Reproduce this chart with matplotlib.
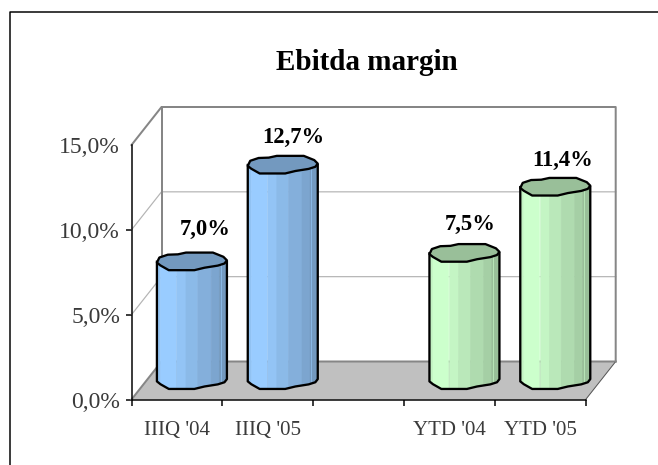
import numpy as np
import matplotlib
matplotlib.use('Agg')
import matplotlib.pyplot as plt
from matplotlib.colors import to_rgb
from matplotlib.lines import Line2D

categories = ["IIIQ '04", "IIIQ '05", "", "YTD '04", "YTD '05"]
bar_slots = [0, 1, 3, 4]
values = [7.0, 12.7, 7.5, 11.4]
value_labels = ['7,0%', '12,7%', '7,5%', '11,4%']
bar_colors = ['#99ccff', '#99ccff', '#ccffcc', '#ccffcc']
y_ticks = [0, 5, 10, 15]
y_tick_labels = ['0,0%', '5,0%', '10,0%', '15,0%']
title = 'Ebitda margin'

W, H = 658, 465
plt.rcParams['font.family'] = ['Liberation Serif', 'DejaVu Serif']

fig = plt.figure(figsize=(W / 100, H / 100), dpi=100, facecolor='white')
ax = fig.add_axes([131.5 / W, 1 - 399.5 / H, (585.7 - 131.5) / W, (399.5 - 145) / H])
ax.set_xlim(0, 5)
ax.set_ylim(0, 15)
ax.patch.set_visible(False)

# size of one pixel in data units
px_x = 5 / (585.7 - 131.5)
px_y = 15 / (399.5 - 145)
dx = 30 * px_x
dy = 38 * px_y

GRID = '#b4b4b4'
EDGE = '#868686'
PX = 0.72

# floor
ax.fill([0, 5, 5 + dx, dx], [0, 0, dy, dy], color='#c0c0c0', lw=0, zorder=1, clip_on=False)
ax.plot([0, dx, 5 + dx], [0, dy, dy], color=EDGE, lw=2 * PX, zorder=2, clip_on=False)
ax.plot([5, 5 + dx], [0, dy], color='#555555', lw=1 * PX, zorder=2, clip_on=False)

# walls and gridlines
for t in y_ticks[1:-1]:
    ax.plot([0, dx, 5 + dx], [t, t + dy, t + dy], color=GRID, lw=1.2 * PX, zorder=2, clip_on=False)
ax.plot([0, dx, 5 + dx, 5 + dx], [15, 15 + dy, 15 + dy, dy], color=EDGE, lw=2 * PX, zorder=2, clip_on=False)
ax.plot([dx, dx], [dy, 15 + dy], color=EDGE, lw=2 * PX, zorder=2, clip_on=False)

# the chart program's cylinders have an uneven outline, in units of the ellipse radii
cap_u = [-1.0, -.93, -.69, -.4, -.17, .6, .9, 1.0, .93, .74, .36, .07, -.66, -.9]
cap_v = [-.1, .48, .8, .84, 1.04, 1.04, .56, .16, -.2, -.44, -.68, -.96, -.96, -.42]
low_u = [-1.0, -.9, -.66, .07, .36, .74, .93, 1.0]
low_v = [-.1, -.42, -.96, -.96, -.68, -.44, -.2, .16]
band_edges = [-1.0, -.9, -.45, -.17, .17, .55, .78, 1.0]
band_shade = [.95, 1.0, .96, .91, .86, .81, .75]

rx = 35 * px_x
ry = 8.8 * px_y


def cylinder(center, value, color):
    base = dy / 2
    top = base + value
    rgb = np.array(to_rgb(color))
    for i, shade in enumerate(band_shade):
        u = np.linspace(band_edges[i], band_edges[i + 1], 8)
        low = base + np.interp(u, low_u, low_v) * ry
        xs = np.r_[center + u * rx, center + u[::-1] * rx]
        ys = np.r_[low, np.full(8, top)]
        ax.fill(xs, ys, color=rgb * shade, lw=0.4, zorder=3, clip_on=False)
    # thin light streak near the right side
    ax.plot([center + .82 * rx] * 2, [base, top], color=rgb * .92, lw=0.6, zorder=3.1, clip_on=False)
    lx = center + np.array(low_u) * rx
    ly = base + np.array(low_v) * ry
    ax.plot(np.r_[center - rx, lx, center + rx], np.r_[top, ly, top],
            color='black', lw=2.3 * PX, zorder=4, clip_on=False, solid_joinstyle='round')
    cx = center + np.array(cap_u) * rx
    cy = top + np.array(cap_v) * ry
    ax.fill(cx, cy, facecolor=rgb * .75, edgecolor='black', lw=2.3 * PX, zorder=5, clip_on=False,
            joinstyle='round')


centers = [s + .5 + dx / 2 for s in bar_slots]
label_shift_x = [13, 10.5, 5.5, 7]
label_shift_y = [32, 28, 29, 27]
for c, v, col, lab, sx, sy in zip(centers, values, bar_colors, value_labels, label_shift_x, label_shift_y):
    cylinder(c, v, col)
    ax.text(c + sx * px_x, dy / 2 + v + sy * px_y, lab, ha='center', va='center', fontsize=16.3,
            fontweight='bold', color='black', zorder=6)

# axes
for side in ['top', 'right']:
    ax.spines[side].set_visible(False)
for side in ['left', 'bottom']:
    ax.spines[side].set_linewidth(1.5 * PX)
    ax.spines[side].set_zorder(7)
ax.set_yticks(y_ticks)
ax.set_yticklabels(y_tick_labels, fontsize=17, color='#3a3a3a')
ax.set_xticks(range(6))
ax.set_xticklabels([])
ax.set_xticks([i + .5 for i in range(5)], minor=True)
ax.set_xticklabels(categories, minor=True, fontsize=15, color='#3a3a3a')
ax.tick_params(axis='x', which='major', length=6 * PX, width=1.5 * PX)
ax.tick_params(axis='x', which='minor', length=0, pad=14 * PX + 5.5)
ax.tick_params(axis='y', length=6 * PX, width=1.5 * PX, pad=4)
ax.yaxis.get_major_ticks()[-1].tick1line.set_visible(False)

fig.text(366.7 / W, 1 - 62.5 / H, title, ha='center', va='center', fontsize=21, fontweight='bold', color='black')

# outer frame, only the top and left sides show
fig.add_artist(Line2D([9.5 / W, 9.5 / W, 1], [0, 1 - 12 / H, 1 - 12 / H], color='black', lw=1.5 * PX))

fig.savefig('out.png', dpi=100)
